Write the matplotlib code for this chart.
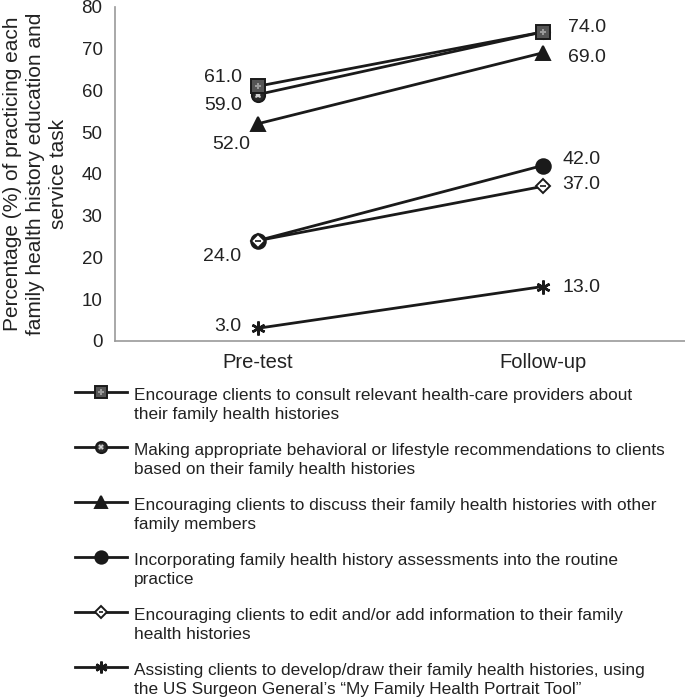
import matplotlib.pyplot as plt

plt.rcParams['font.family'] = ['Liberation Sans', 'DejaVu Sans']

# Data
phases = ['Pre-test', 'Follow-up']
consult = [61.0, 74.0]
lifestyle = [59.0, 74.0]
discuss = [52.0, 69.0]
routine = [24.0, 42.0]
edit = [24.0, 37.0]
portrait = [3.0, 13.0]

labels = [
    'Encourage clients to consult relevant health-care providers about\ntheir family health histories',
    'Making appropriate behavioral or lifestyle recommendations to clients\nbased on their family health histories',
    'Encouraging clients to discuss their family health histories with other\nfamily members',
    'Incorporating family health history assessments into the routine\npractice',
    'Encouraging clients to edit and/or add information to their family\nhealth histories',
    'Assisting clients to develop/draw their family health histories, using\nthe US Surgeon General\u2019s \u201cMy Family Health Portrait Tool\u201d',
]

ink = '#1a1a1a'
# marker, size (pt), face, inner mark, inner colour
marks = [
    ('s', 9.5, '#555555', 'P', '#9a9a9a'),
    ('o', 9.5, '#2a2a2a', 'X', '#d0d0d0'),
    ('^', 10.5, ink, None, None),
    ('o', 10.5, ink, None, None),
    ('D', 7.5, 'white', '_', ink),
    ((6, 2, 0), 10, 'none', None, None),
]


def draw_marks(a, xs, ys, m, scale=1.0, z=3):
    mk, ms, face, inner, icol = m
    ms = ms * scale
    if mk == (6, 2, 0):
        a.plot(xs, ys, linestyle='none', marker=mk, markersize=ms, markeredgecolor=ink,
               markeredgewidth=1.8, zorder=z)
        return
    a.plot(xs, ys, linestyle='none', marker=mk, markersize=ms, markerfacecolor=face,
           markeredgecolor=ink, markeredgewidth=1.4, zorder=z)
    if inner == '_':
        a.plot(xs, ys, linestyle='none', marker='_', markersize=ms * 0.55,
               markeredgecolor=icol, markeredgewidth=1.2, zorder=z + 0.1)
    elif inner:
        a.plot(xs, ys, linestyle='none', marker=inner, markersize=ms * 0.5,
               markerfacecolor=icol, markeredgewidth=0, zorder=z + 0.1)


fig = plt.figure(figsize=(6.85, 6.97), dpi=100)
ax = fig.add_axes([0.168, 0.511, 0.832, 0.479])

x = [0.5, 1.5]
series = [consult, lifestyle, discuss, routine, edit, portrait]
order = [1, 0, 2, 3, 4, 5]
for k, i in enumerate(order):
    ax.plot(x, series[i], color=ink, linewidth=2, zorder=2)
    draw_marks(ax, x, series[i], marks[i], z=3 + k * 0.2)

# value labels (offsets in points)
pre_offsets = [(-11, 6.5), (-11, -8), (-5, -15), (-11.5, -11.5), None, (-11.5, 1.5)]
for vals, off in zip(series, pre_offsets):
    if off is None:
        continue
    ax.annotate(f'{vals[0]:.1f}', (x[0], vals[0]), xytext=off, textcoords='offset points',
                ha='right', va='center', fontsize=14, color='#222222')
post_offsets = [(18, 3), None, (18, -3), (14.5, 4), (14.5, 1.5), (14.5, -0.5)]
for vals, off in zip(series, post_offsets):
    if off is None:
        continue
    ax.annotate(f'{vals[1]:.1f}', (x[1], vals[1]), xytext=off, textcoords='offset points',
                ha='left', va='center', fontsize=14, color='#222222')

ax.set_xlim(0, 2)
ax.set_ylim(0, 80)
ax.set_xticks(x)
ax.set_xticklabels(phases, fontsize=14.5)
ax.set_yticks(range(0, 81, 10))
ax.tick_params(length=0, labelsize=13.5, colors='#222222')
ax.tick_params(axis='x', labelsize=14.5, pad=9)
ax.tick_params(axis='y', pad=9)
for s in ['top', 'right']:
    ax.spines[s].set_visible(False)
for s in ['left', 'bottom']:
    ax.spines[s].set_color('#999999')
    ax.spines[s].set_linewidth(1.2)
ax.set_ylabel('Percentage (%) of practicing each\nfamily health history education and\nservice task',
              fontsize=15, color='#222222', linespacing=1.25)
ax.yaxis.set_label_coords(-0.083, 0.5)

# legend drawn below the plot, one entry per task
lax = fig.add_axes([0, 0, 1, 1], zorder=-1)
lax.set_xlim(0, 685)
lax.set_ylim(697, 0)
lax.axis('off')
for i, lab in enumerate(labels):
    y = 392 + 55 * i
    lax.plot([75, 127], [y, y], color=ink, linewidth=2, zorder=2)
    draw_marks(lax, [101], [y], marks[i], scale=0.85)
    lax.text(134, y - 4, lab, ha='left', va='top', fontsize=12.4, color='#222222',
             linespacing=1.3)

fig.savefig('out.png', dpi=100)
